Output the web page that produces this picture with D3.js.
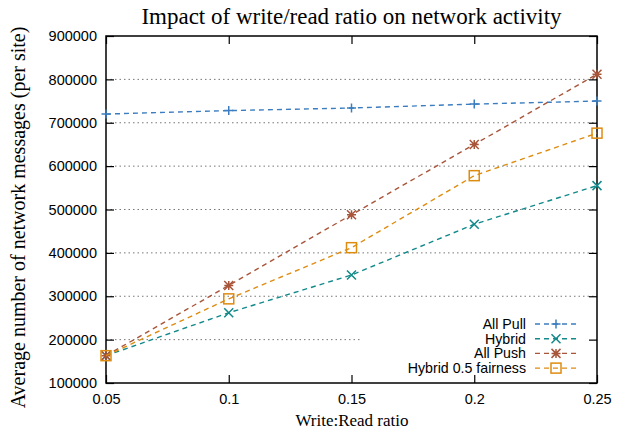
<!DOCTYPE html>
<html>
<head>
<meta charset="utf-8">
<script src="https://cdn.jsdelivr.net/npm/d3@7"></script>
<style>
  body { margin: 0; background: #fff; }
  svg { display: block; }
</style>
</head>
<body>
<svg id="chart" width="624" height="432"></svg>
<script>
// chart data
const ratios = [0.05, 0.1, 0.15, 0.2, 0.25];
const allPull = [720000, 728000, 734000, 743000, 750000];
const hybrid = [163000, 262000, 349000, 466000, 555000];
const allPush = [163000, 325000, 488000, 650000, 812000];
const hybridFair = [163000, 294000, 412000, 578000, 676000];
const xTicks = [0.05, 0.1, 0.15, 0.2, 0.25];
const yTicks = [100000, 200000, 300000, 400000, 500000, 600000, 700000, 800000, 900000];

const series = [
  { name: "All Pull", values: allPull, color: "#3b7dc0", marker: "plus" },
  { name: "Hybrid", values: hybrid, color: "#12898a", marker: "cross" },
  { name: "All Push", values: allPush, color: "#a8553a", marker: "star" },
  { name: "Hybrid 0.5 fairness", values: hybridFair, color: "#de8c10", marker: "square" }
];

const svg = d3.select("#chart");
const margin = { top: 36, right: 27, bottom: 49, left: 106 };
const width = 624 - margin.left - margin.right;
const height = 432 - margin.top - margin.bottom;

const x = d3.scaleLinear().domain([0.05, 0.25]).range([0, width]);
const y = d3.scaleLinear().domain([100000, 900000]).range([height, 0]);

const g = svg.append("g").attr("transform", `translate(${margin.left},${margin.top})`);

// dotted grid
g.append("g")
  .selectAll("line")
  .data(yTicks.slice(1, -1))
  .join("line")
  .attr("x1", 0)
  .attr("x2", width)
  .attr("y1", d => y(d))
  .attr("y2", d => y(d))
  .attr("stroke", "#777")
  .attr("stroke-width", 1)
  .attr("stroke-dasharray", "1.5,3");

// key area hides the grid behind it
g.append("rect")
  .attr("x", 254)
  .attr("y", 280)
  .attr("width", width - 255)
  .attr("height", 66)
  .attr("fill", "#fff");

const tickFont = "'Liberation Sans', Arial, sans-serif";
const serif = "'Liberation Serif', 'Times New Roman', serif";

// axes, ticks pointing inward, mirrored on top/right
g.append("g").attr("transform", `translate(0,${height})`)
  .call(d3.axisBottom(x).tickValues(xTicks).tickFormat(d3.format("")).tickSizeInner(-8).tickSizeOuter(0).tickPadding(11));
g.append("g")
  .call(d3.axisLeft(y).tickValues(yTicks).tickFormat(d3.format("d")).tickSizeInner(-8).tickSizeOuter(0).tickPadding(9));
g.append("g").call(d3.axisTop(x).tickValues(xTicks).tickFormat("").tickSizeInner(-8).tickSizeOuter(0));
g.append("g").attr("transform", `translate(${width},0)`)
  .call(d3.axisRight(y).tickValues(yTicks).tickFormat("").tickSizeInner(-8).tickSizeOuter(0));

g.selectAll(".domain").remove();
g.selectAll(".tick line").attr("stroke", "#000").attr("stroke-width", 1.2);
g.selectAll(".tick text").attr("font-family", tickFont).attr("font-size", 14.5).attr("fill", "#000");

g.append("rect")
  .attr("width", width)
  .attr("height", height)
  .attr("fill", "none")
  .attr("stroke", "#000")
  .attr("stroke-width", 1.5);

// marker shapes
function drawMarker(sel, type, color) {
  const s = 4.5;
  if (type === "plus") {
    sel.append("path").attr("d", `M${-s},0H${s}M0,${-s}V${s}`);
  } else if (type === "cross") {
    sel.append("path").attr("d", `M${-s},${-s}L${s},${s}M${-s},${s}L${s},${-s}`);
  } else if (type === "star") {
    sel.append("path").attr("d", `M${-s},0H${s}M0,${-s}V${s}M${-s},${-s}L${s},${s}M${-s},${s}L${s},${-s}`);
  } else {
    sel.append("rect").attr("x", -5).attr("y", -5).attr("width", 10).attr("height", 10).attr("fill", "none");
  }
  sel.selectAll("path, rect").attr("stroke", color).attr("stroke-width", 1.5);
}

const line = d3.line()
  .x((d, i) => x(ratios[i]))
  .y(d => y(d));

series.forEach(s => {
  g.append("path")
    .datum(s.values)
    .attr("fill", "none")
    .attr("stroke", s.color)
    .attr("stroke-width", 1.4)
    .attr("stroke-dasharray", "5,4")
    .attr("d", line);
  s.values.forEach((v, i) => {
    const m = g.append("g").attr("transform", `translate(${x(ratios[i])},${y(v)})`);
    drawMarker(m, s.marker, s.color);
  });
});

// key
const key = g.append("g");
series.forEach((s, i) => {
  const ky = 288 + i * 14.7;
  key.append("text")
    .attr("x", 420)
    .attr("y", ky)
    .attr("dy", "0.35em")
    .attr("text-anchor", "end")
    .attr("font-family", tickFont)
    .attr("font-size", 14.2)
    .text(s.name);
  key.append("line")
    .attr("x1", 429).attr("x2", 472)
    .attr("y1", ky).attr("y2", ky)
    .attr("stroke", s.color)
    .attr("stroke-width", 1.4)
    .attr("stroke-dasharray", "5,4");
  const m = key.append("g").attr("transform", `translate(450,${ky})`);
  drawMarker(m, s.marker, s.color);
});

// titles
svg.append("text")
  .attr("x", 351.5)
  .attr("y", 24)
  .attr("text-anchor", "middle")
  .attr("font-family", serif)
  .attr("font-size", 23)
  .text("Impact of write/read ratio on network activity");

svg.append("text")
  .attr("x", 352)
  .attr("y", 426)
  .attr("text-anchor", "middle")
  .attr("font-family", serif)
  .attr("font-size", 17)
  .text("Write:Read ratio");

svg.append("text")
  .attr("transform", `translate(25,${margin.top + height / 2 + 8}) rotate(-90)`)
  .attr("text-anchor", "middle")
  .attr("font-family", serif)
  .attr("font-size", 20)
  .text("Average number of network messages (per site)");
</script>
</body>
</html>
